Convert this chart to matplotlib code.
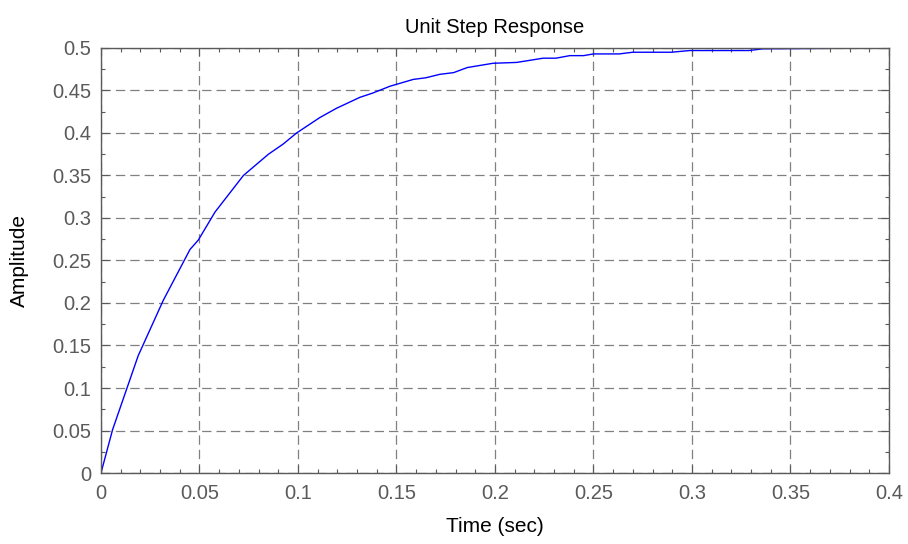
import matplotlib
matplotlib.use("Agg")
import matplotlib.pyplot as plt
from matplotlib.ticker import MultipleLocator

# Step response samples (time in seconds, amplitude)
time_s = [0.0, 0.0059, 0.0189, 0.0316, 0.0452, 0.0494, 0.0579, 0.0723, 0.0850,
          0.0925, 0.0993, 0.111, 0.1195, 0.1315, 0.138, 0.1467, 0.1585, 0.165,
          0.172, 0.179, 0.186, 0.199, 0.211, 0.2245, 0.231, 0.238, 0.245, 0.25,
          0.263, 0.270, 0.2895, 0.299, 0.329, 0.336, 0.4]
amplitude = [0.0, 0.051, 0.138, 0.203, 0.263, 0.274, 0.307, 0.350, 0.375,
             0.387, 0.400, 0.418, 0.429, 0.442, 0.447, 0.455, 0.463, 0.465,
             0.469, 0.471, 0.477, 0.482, 0.483, 0.488, 0.488, 0.491, 0.491, 0.493,
             0.493, 0.495, 0.495, 0.497, 0.497, 0.499, 0.5]

x_ticks = [0, 0.05, 0.1, 0.15, 0.2, 0.25, 0.3, 0.35, 0.4]
x_tick_labels = ["0", "0.05", "0.1", "0.15", "0.2", "0.25", "0.3", "0.35", "0.4"]
y_ticks = [0, 0.05, 0.1, 0.15, 0.2, 0.25, 0.3, 0.35, 0.4, 0.45, 0.5]
y_tick_labels = ["0", "0.05", "0.1", "0.15", "0.2", "0.25", "0.3", "0.35", "0.4", "0.45", "0.5"]

plt.rcParams["font.family"] = ["Liberation Sans", "DejaVu Sans"]
axis_grey = "#5a5a5a"

fig = plt.figure(figsize=(9.08, 5.44), dpi=100)
ax = fig.add_axes([0.1112, 0.1305, 0.979 - 0.1112, 0.9118 - 0.1305])

ax.plot(time_s, amplitude, color="#0000ff", linewidth=1.0)

ax.set_xlim(0, 0.4)
ax.set_ylim(0, 0.5)
ax.set_xticks(x_ticks)
ax.set_xticklabels(x_tick_labels)
ax.set_yticks(y_ticks)
ax.set_yticklabels(y_tick_labels)
ax.xaxis.set_minor_locator(MultipleLocator(0.01))
ax.yaxis.set_minor_locator(MultipleLocator(0.025))

ax.tick_params(which="both", direction="in", top=True, right=True,
               color=axis_grey, labelcolor=axis_grey, labelsize=14.5, width=0.8)
ax.tick_params(which="major", length=6)
ax.tick_params(axis="x", which="major", pad=8)
ax.tick_params(axis="y", which="major", pad=7)
ax.tick_params(which="minor", length=3)
for spine in ax.spines.values():
    spine.set_color(axis_grey)
    spine.set_linewidth(1.0)

ax.grid(True, which="major", color="#808080", linestyle=(0, (7.5, 4)), linewidth=0.9)

ax.set_title("Unit Step Response", fontsize=14.5, color="black", pad=11)
ax.set_xlabel("Time (sec)", fontsize=15, color="black")
ax.set_ylabel("Amplitude", fontsize=15, color="black")
ax.xaxis.set_label_coords(0.5, -0.1035)
ax.yaxis.set_label_coords(-0.0914, 0.5)

fig.savefig("out.png", dpi=100)
